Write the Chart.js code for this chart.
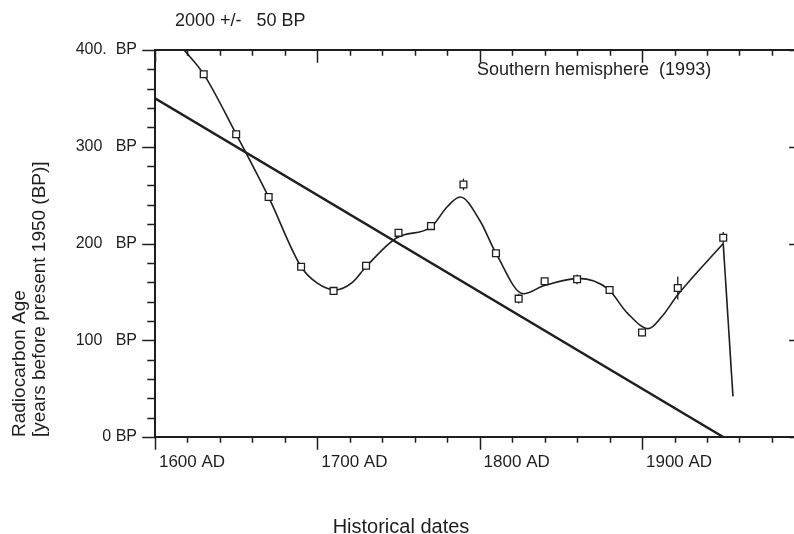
<!DOCTYPE html>
<html>
<head>
<meta charset="utf-8">
<script src="https://cdn.jsdelivr.net/npm/chart.js"></script>
<style>
  html, body { margin: 0; padding: 0; background: #fff; overflow: hidden; width: 794px; height: 534px; }
  #c { display: block; }
</style>
</head>
<body>
<canvas id="c" width="804" height="534"></canvas>
<script>
// ---- data ----
const sampleYears = [1630, 1650, 1670, 1690, 1710, 1730, 1750, 1770, 1790, 1810, 1824, 1840, 1860, 1880, 1900, 1922, 1950];
const sampleBP    = [375, 313, 248, 176, 151, 177, 211, 218, 261, 190, 143, 161, 163, 152, 108, 154, 206];
const sampleErr   = [0, 0, 0, 0, 0, 0, 0, 0, 6, 0, 5, 0, 5, 0, 4, 12, 6];

const curveYears = [1612, 1620, 1630, 1650, 1670, 1690, 1700, 1711, 1721, 1730, 1749, 1770, 1780, 1788, 1800, 1810, 1827, 1839, 1861, 1879, 1891, 1904, 1912, 1922, 1950];
const curveBP    = [410, 396, 375, 313, 248, 176, 159, 152, 159, 176, 206, 217, 238, 248, 224, 190, 148, 156, 164, 153, 128, 112, 124, 147, 200];

const dropYears = [1950, 1956];
const dropBP    = [200, 42];

const calYears = [1600, 1950];
const calBP    = [350, 0];

const xTickValues = [1600, 1700, 1800, 1900];
const xTickLabels = ['1600 AD', '1700 AD', '1800 AD', '1900 AD'];
const yTickValues = [0, 100, 200, 300, 400];
const yTickLabels = ['0 BP', '100   BP', '200   BP', '300   BP', '400.  BP'];

const topNote = '2000 +/-   50 BP';
const panelNote = 'Southern hemisphere  (1993)';
const xTitle = 'Historical dates';
const yTitle = ['Radiocarbon Age', '[years before present 1950 (BP)]'];

// ---- chart ----
const FONT = "'Liberation Sans', Arial, sans-serif";
const INK = '#1e1e1e';
const zip = (xs, ys) => xs.map((x, i) => ({ x: x, y: ys[i] }));

const errorBars = {
  id: 'errorBars',
  beforeDatasetsDraw(chart) {
    const { ctx, scales: { x, y } } = chart;
    ctx.save();
    ctx.strokeStyle = INK;
    ctx.lineWidth = 1.3;
    sampleYears.forEach((yr, i) => {
      const e = sampleErr[i];
      if (!e) return;
      const px = x.getPixelForValue(yr);
      ctx.beginPath();
      ctx.moveTo(px, y.getPixelForValue(sampleBP[i] + e));
      ctx.lineTo(px, y.getPixelForValue(sampleBP[i] - e));
      ctx.stroke();
    });
    ctx.restore();
  }
};

const frame = {
  id: 'frame',
  afterDraw(chart) {
    const { ctx, chartArea: { left, right, top, bottom }, scales: { x, y } } = chart;
    ctx.save();
    ctx.strokeStyle = INK;
    ctx.lineCap = 'square';
    ctx.lineWidth = 2;
    ctx.beginPath();
    ctx.moveTo(left, top); ctx.lineTo(right, top);
    ctx.moveTo(left, bottom); ctx.lineTo(right, bottom);
    ctx.moveTo(left, top); ctx.lineTo(left, bottom);
    ctx.moveTo(right, top); ctx.lineTo(right, bottom);
    ctx.stroke();
    ctx.lineWidth = 1.5;
    ctx.beginPath();
    for (let v = x.min; v <= x.max; v += 20) {
      const px = Math.round(x.getPixelForValue(v)) + 0.5;
      const major = v % 100 === 0;
      ctx.moveTo(px, bottom); ctx.lineTo(px, bottom + (major ? 12 : 5));
      ctx.moveTo(px, top); ctx.lineTo(px, top + (major ? 12 : 5));
    }
    for (let v = y.min; v <= y.max; v += 20) {
      const py = Math.round(y.getPixelForValue(v)) + 0.5;
      const major = v % 100 === 0;
      ctx.moveTo(left, py); ctx.lineTo(left - (major ? 12 : 7), py);
      if (major) { ctx.moveTo(right, py); ctx.lineTo(right - 8, py); }
    }
    ctx.stroke();

    ctx.fillStyle = INK;
    ctx.textBaseline = 'middle';
    ctx.textAlign = 'left';
    ctx.font = '18px ' + FONT;
    ctx.fillText(topNote, 175, 21);
    ctx.fillText(panelNote, 477, 70);
    ctx.font = '20px ' + FONT;
    ctx.textAlign = 'center';
    ctx.fillText(xTitle, 401, 527);
    ctx.restore();
  }
};

new Chart(document.getElementById('c'), {
  type: 'scatter',
  data: {
    datasets: [
      {
        label: 'Samples',
        data: zip(sampleYears, sampleBP),
        pointStyle: 'rect',
        pointRadius: 4.8,
        pointBorderWidth: 1.3,
        borderColor: INK,
        backgroundColor: '#fff',
        showLine: false,
        order: 0
      },
      {
        label: 'Smoothed curve',
        data: zip(curveYears, curveBP),
        showLine: true,
        pointRadius: 0,
        borderColor: INK,
        borderWidth: 1.6,
        cubicInterpolationMode: 'monotone',
        order: 1
      },
      {
        label: 'Drop',
        data: zip(dropYears, dropBP),
        showLine: true,
        pointRadius: 0,
        borderColor: INK,
        borderWidth: 1.6,
        tension: 0,
        order: 2
      },
      {
        label: 'Calendar age',
        data: zip(calYears, calBP),
        showLine: true,
        pointRadius: 0,
        borderColor: INK,
        borderWidth: 2.4,
        tension: 0,
        order: 3
      }
    ]
  },
  options: {
    responsive: false,
    animation: false,
    layout: { padding: { top: 50, right: 3, bottom: 0, left: 0 } },
    plugins: { legend: { display: false }, tooltip: { enabled: false } },
    scales: {
      x: {
        type: 'linear',
        position: 'bottom',
        min: 1600,
        max: 1996,
        afterBuildTicks: s => { s.ticks = xTickValues.map(v => ({ value: v })); },
        afterFit: s => { s.height = 97; s.paddingRight = 0; s.paddingLeft = 0; },
        grid: { display: true, drawOnChartArea: false, drawTicks: true, tickLength: 5, tickColor: 'rgba(0,0,0,0)' },
        border: { display: false },
        ticks: {
          labelOffset: 37,
          padding: 10,
          maxRotation: 0,
          minRotation: 0,
          autoSkip: false,
          color: INK,
          font: { family: FONT, size: 17 },
          callback: v => { const i = xTickValues.indexOf(v); return i >= 0 ? xTickLabels[i] : ''; }
        }
      },
      y: {
        type: 'linear',
        position: 'left',
        min: 0,
        max: 400,
        afterFit: s => { s.width = 155; },
        grid: { display: true, drawOnChartArea: false, drawTicks: true, tickLength: 8, tickColor: 'rgba(0,0,0,0)' },
        border: { display: false },
        ticks: {
          stepSize: 100,
          padding: 10,
          color: INK,
          font: { family: FONT, size: 16 },
          callback: v => { const i = yTickValues.indexOf(v); return i >= 0 ? yTickLabels[i] : ''; }
        },
        title: {
          display: true,
          text: yTitle,
          align: 'start',
          color: INK,
          font: { family: FONT, size: 19, lineHeight: 1.05 },
          padding: { top: 10, bottom: 0 }
        }
      }
    }
  },
  plugins: [errorBars, frame]
});
</script>
</body>
</html>
